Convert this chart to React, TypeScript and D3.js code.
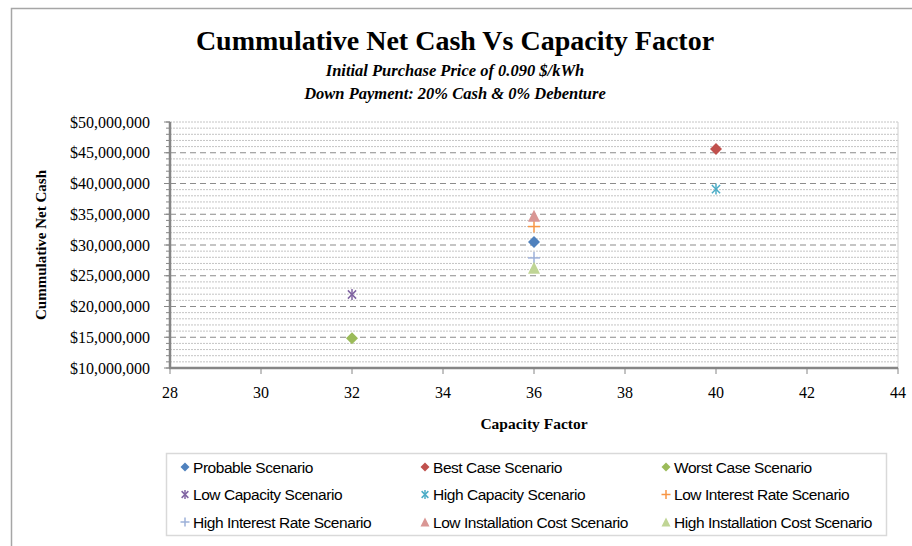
import React from "react";
import * as d3 from "d3";

// capacity factor (x) and cumulative net cash (y) for each scenario
const scenarios = [
  "Probable Scenario",
  "Best Case Scenario",
  "Worst Case Scenario",
  "Low Capacity Scenario",
  "High Capacity Scenario",
  "Low Interest Rate Scenario",
  "High Interest Rate Scenario",
  "Low Installation Cost Scenario",
  "High Installation Cost Scenario",
];
const capacityFactor = [36, 40, 32, 32, 40, 36, 36, 36, 36];
const netCash = [30500000, 45600000, 14850000, 21950000, 39100000, 33000000, 27900000, 34750000, 26300000];
const symbols = ["diamond", "diamond", "diamond", "star", "star", "plus", "plus", "triangle", "triangle"];
const colors = ["#4F81BD", "#C0504D", "#9BBB59", "#8064A2", "#4BACC6", "#F79646", "#9DB0D9", "#D99694", "#C0D595"];

const xTicks = [28, 30, 32, 34, 36, 38, 40, 42, 44];
const yTicks = [10, 15, 20, 25, 30, 35, 40, 45, 50].map((v) => v * 1000000);

const W = 912;
const H = 546;
const M = { left: 170, right: 898, top: 122, bottom: 368 };

const Marker = ({ type, color, cx, cy, s }: { type: string; color: string; cx: number; cy: number; s: number }) => {
  const h = s / 2;
  if (type === "diamond") {
    return <path d={`M${cx},${cy - h}L${cx + h},${cy}L${cx},${cy + h}L${cx - h},${cy}Z`} fill={color} />;
  }
  if (type === "triangle") {
    return <path d={`M${cx},${cy - h}L${cx + h},${cy + h}L${cx - h},${cy + h}Z`} fill={color} />;
  }
  if (type === "plus") {
    return (
      <g stroke={color} strokeWidth={1.5}>
        <line x1={cx - h} x2={cx + h} y1={cy} y2={cy} />
        <line x1={cx} x2={cx} y1={cy - h} y2={cy + h} />
      </g>
    );
  }
  const k = h * 0.75;
  return (
    <g stroke={color} strokeWidth={1.5}>
      <line x1={cx - k} x2={cx + k} y1={cy - k} y2={cy + k} />
      <line x1={cx - k} x2={cx + k} y1={cy + k} y2={cy - k} />
      <line x1={cx} x2={cx} y1={cy - h} y2={cy + h} />
    </g>
  );
};

const App = (): React.JSX.Element => {
  const x = d3.scaleLinear([28, 44], [M.left, M.right]);
  const y = d3.scaleLinear([10000000, 50000000], [M.bottom, M.top]);
  const minor = d3.range(10000000, 50000001, 1000000);
  const fmt = (v: number) => "$" + d3.format(",")(v);
  const serif = "'Liberation Serif', 'Times New Roman', serif";
  const sans = "'Liberation Sans', Arial, sans-serif";

  return (
    <svg width={W} height={H} style={{ position: "absolute", left: 0, top: 0 }}>
      <rect x={0} y={0} width={W} height={H} fill="#fff" />
      <path d={`M11.5,${H}V8.5H${W}`} fill="none" stroke="#a6a6a6" strokeWidth={1.5} />

      <text x={455} y={50} textAnchor="middle" fontFamily={serif} fontWeight="bold" fontSize={28}>
        Cummulative Net Cash Vs Capacity Factor
      </text>
      <text x={455} y={76} textAnchor="middle" fontFamily={serif} fontWeight="bold" fontStyle="italic" fontSize={16.5}>
        Initial Purchase Price of 0.090 $/kWh
      </text>
      <text x={455} y={99} textAnchor="middle" fontFamily={serif} fontWeight="bold" fontStyle="italic" fontSize={16.5}>
        Down Payment: 20% Cash &amp; 0% Debenture
      </text>

      {/* minor gridlines */}
      {minor.map((v) =>
        v % 5000000 === 0 && v !== 50000000 ? null : (
          <line key={"m" + v} x1={M.left} x2={M.right} y1={y(v)} y2={y(v)} stroke="#c4c4c4" strokeWidth={1} strokeDasharray="2,1" />
        )
      )}
      {/* major gridlines */}
      {yTicks.slice(1, -1).map((v) => (
        <line key={"g" + v} x1={M.left} x2={M.right} y1={y(v)} y2={y(v)} stroke="#8c8c8c" strokeWidth={1.2} strokeDasharray="6,4" />
      ))}
      <line x1={M.right} x2={M.right} y1={M.top} y2={M.bottom} stroke="#d0d0d0" strokeWidth={1} />

      {/* y axis */}
      {minor.map((v) => (
        <line key={"t" + v} x1={M.left - 4} x2={M.left} y1={y(v)} y2={y(v)} stroke="#868686" strokeWidth={1} />
      ))}
      {yTicks.map((v) => (
        <g key={"y" + v}>
          <line x1={M.left - 6} x2={M.left} y1={y(v)} y2={y(v)} stroke="#868686" strokeWidth={1} />
          <text x={M.left - 20} y={y(v)} dy="0.35em" textAnchor="end" fontFamily={serif} fontSize={16}>
            {fmt(v)}
          </text>
        </g>
      ))}
      <line x1={M.left} x2={M.left} y1={M.top} y2={M.bottom} stroke="#868686" strokeWidth={2.5} />

      {/* x axis */}
      {xTicks.map((v) => (
        <g key={"x" + v}>
          <line x1={x(v)} x2={x(v)} y1={M.bottom} y2={M.bottom + 6} stroke="#868686" strokeWidth={1} />
          <text x={x(v)} y={M.bottom + 30} textAnchor="middle" fontFamily={serif} fontSize={16}>
            {v}
          </text>
        </g>
      ))}
      <line x1={M.left - 1} x2={M.right} y1={M.bottom} y2={M.bottom} stroke="#868686" strokeWidth={2.5} />

      <text x={(M.left + M.right) / 2} y={429} textAnchor="middle" fontFamily={serif} fontWeight="bold" fontSize={15.5}>
        Capacity Factor
      </text>
      <text
        transform={`translate(46,${(M.top + M.bottom) / 2}) rotate(-90)`}
        textAnchor="middle"
        fontFamily={serif}
        fontWeight="bold"
        fontSize={15}
      >
        Cummulative Net Cash
      </text>

      {/* points */}
      {scenarios.map((s, i) => (
        <Marker key={s} type={symbols[i]} color={colors[i]} cx={x(capacityFactor[i])} cy={y(netCash[i])} s={symbols[i] === "star" ? 11 : 12} />
      ))}

      {/* legend */}
      <rect x={166.5} y={453.5} width={720} height={82} fill="#fff" stroke="#d9d9d9" strokeWidth={1.5} />
      {scenarios.map((s, i) => {
        const col = i % 3;
        const row = Math.floor(i / 3);
        const lx = [185, 425, 666][col];
        const ly = 467 + row * 27.5;
        return (
          <g key={"l" + s}>
            <Marker type={symbols[i]} color={colors[i]} cx={lx} cy={ly} s={9} />
            <text x={lx + 8} y={ly} dy="0.36em" fontFamily={sans} fontSize={15.5} letterSpacing={-0.45}>
              {s}
            </text>
          </g>
        );
      })}
    </svg>
  );
};

export default App;
